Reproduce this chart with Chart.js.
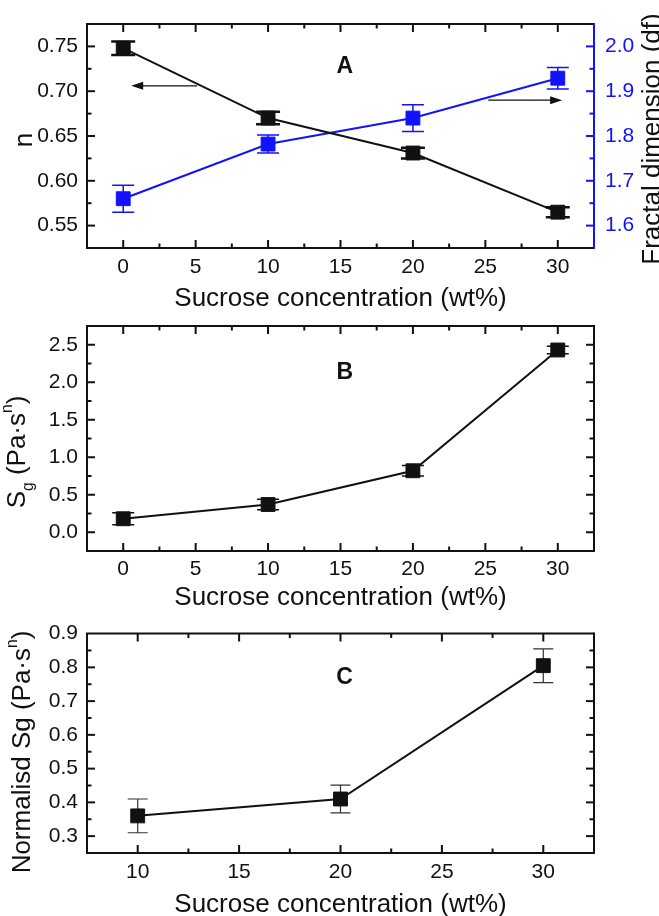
<!DOCTYPE html>
<html>
<head>
<meta charset="utf-8">
<script src="https://cdn.jsdelivr.net/npm/chart.js@4.4.0/dist/chart.umd.min.js"></script>
<style>
  body { margin: 0; background: #fff; width: 659px; height: 916px; position: relative; overflow: hidden; }
  .panel { position: absolute; left: 0; width: 659px; }
</style>
</head>
<body>
<div class="panel" style="top:0;height:312px"><canvas id="chartA" width="659" height="312"></canvas></div>
<div class="panel" style="top:300px;height:312px"><canvas id="chartB" width="659" height="312"></canvas></div>
<div class="panel" style="top:612px;height:304px"><canvas id="chartC" width="659" height="304"></canvas></div>
<script>
// data
const concAB = [0, 10, 20, 30];
const nValues = [0.748, 0.670, 0.631, 0.565];
const nErr = [0.0075, 0.007, 0.006, 0.0056];
const dfValues = [1.660, 1.782, 1.840, 1.929];
const dfErr = [0.030, 0.020, 0.030, 0.024];

const sgValues = [0.18, 0.37, 0.82, 2.43];
const sgErr = [0.08, 0.07, 0.07, 0.05];

const concC = [10, 20, 30];
const normValues = [0.36, 0.41, 0.805];
const normErr = [0.05, 0.041, 0.05];

// tick labels
const xTicksAB = [0, 5, 10, 15, 20, 25, 30];
const xTicksC = [10, 15, 20, 25, 30];
const nTicks = [0.55, 0.60, 0.65, 0.70, 0.75];
const dfTicks = [1.6, 1.7, 1.8, 1.9, 2.0];
const sgTicks = [0.0, 0.5, 1.0, 1.5, 2.0, 2.5];
const normTicks = [0.3, 0.4, 0.5, 0.6, 0.7, 0.8, 0.9];

const FONT = "'Liberation Sans', Arial, sans-serif";
const BLUE = "#1212ff";
const INK = "#111";

function pts(xs, ys) {
  return xs.map((x, i) => ({ x: x, y: ys[i] }));
}

function fixTicks(list) {
  return function (scale) {
    scale.ticks = list.map((v) => ({ value: v }));
  };
}

// major + minor tick positions (minor halfway between majors)
function allTicks(majors, min, max) {
  const half = (majors[1] - majors[0]) / 2;
  const out = [];
  for (let k = -20; k <= 40; k++) {
    const v = majors[0] + k * half;
    if (v > min + 1e-9 && v < max - 1e-9) out.push({ v: v, major: k % 2 === 0 });
  }
  return out;
}

function drawRich(ctx, xb, cy, parts, size) {
  ctx.save();
  ctx.translate(xb, cy);
  ctx.rotate(-Math.PI / 2);
  ctx.fillStyle = INK;
  ctx.textBaseline = "alphabetic";
  ctx.textAlign = "left";
  let total = 0;
  parts.forEach((p) => {
    const s = p.sub || p.sup ? size * 0.6 : size;
    ctx.font = s + "px " + FONT;
    p.w = ctx.measureText(p.t).width;
    total += p.w;
  });
  let x = -total / 2;
  parts.forEach((p) => {
    const s = p.sub || p.sup ? size * 0.6 : size;
    ctx.font = s + "px " + FONT;
    let dy = 0;
    if (p.sub) dy = size * 0.3;
    if (p.sup) dy = -size * 0.5;
    ctx.fillText(p.t, x, dy);
    x += p.w;
  });
  ctx.restore();
}

function arrow(ctx, x1, y1, x2, y2) {
  ctx.save();
  ctx.strokeStyle = INK;
  ctx.fillStyle = INK;
  ctx.lineWidth = 1.2;
  const dir = Math.sign(x2 - x1);
  ctx.beginPath();
  ctx.moveTo(x1, y1);
  ctx.lineTo(x2 - dir * 10, y2);
  ctx.stroke();
  ctx.beginPath();
  ctx.moveTo(x2, y2);
  ctx.lineTo(x2 - dir * 12, y2 - 4);
  ctx.lineTo(x2 - dir * 12, y2 + 4);
  ctx.closePath();
  ctx.fill();
  ctx.restore();
}

const framePlugin = {
  id: "frame",
  beforeDatasetsDraw(chart, args, opts) {
    const ctx = chart.ctx;
    (opts.errors || []).forEach((e) => {
      const meta = chart.getDatasetMeta(e.dataset);
      const ys = chart.scales[meta.yAxisID];
      const ds = chart.data.datasets[e.dataset].data;
      ctx.save();
      ctx.strokeStyle = e.color;
      ctx.lineWidth = e.width;
      meta.data.forEach((p, i) => {
        const top = ys.getPixelForValue(ds[i].y + e.err[i]);
        const bot = ys.getPixelForValue(ds[i].y - e.err[i]);
        ctx.beginPath();
        ctx.moveTo(p.x, top);
        ctx.lineTo(p.x, bot);
        ctx.moveTo(p.x - e.cap, top);
        ctx.lineTo(p.x + e.cap, top);
        ctx.moveTo(p.x - e.cap, bot);
        ctx.lineTo(p.x + e.cap, bot);
        ctx.stroke();
      });
      ctx.restore();
    });
  },
  afterDraw(chart, args, opts) {
    const ctx = chart.ctx;
    const a = chart.chartArea;
    const xs = chart.scales.x;
    const yl = chart.scales.y;
    const yr = chart.scales.y1 || yl;
    const rightColor = chart.scales.y1 ? BLUE : INK;
    ctx.save();
    ctx.lineWidth = 2;
    // tick marks pointing inwards on all four sides
    ctx.strokeStyle = INK;
    allTicks(opts.xMajors, xs.min, xs.max).forEach((t) => {
      const px = xs.getPixelForValue(t.v);
      const len = t.major ? 8 : 4.5;
      ctx.beginPath();
      ctx.moveTo(px, a.bottom);
      ctx.lineTo(px, a.bottom - len);
      ctx.moveTo(px, a.top);
      ctx.lineTo(px, a.top + len);
      ctx.stroke();
    });
    allTicks(opts.yMajors, yl.min, yl.max).forEach((t) => {
      const py = yl.getPixelForValue(t.v);
      const len = t.major ? 8 : 4.5;
      ctx.beginPath();
      ctx.moveTo(a.left, py);
      ctx.lineTo(a.left + len, py);
      ctx.stroke();
    });
    ctx.strokeStyle = rightColor;
    allTicks(opts.rMajors || opts.yMajors, yr.min, yr.max).forEach((t) => {
      const py = yr.getPixelForValue(t.v);
      const len = t.major ? 8 : 4.5;
      ctx.beginPath();
      ctx.moveTo(a.right, py);
      ctx.lineTo(a.right - len, py);
      ctx.stroke();
    });
    // frame
    ctx.strokeStyle = INK;
    ctx.beginPath();
    ctx.moveTo(a.right, a.top);
    ctx.lineTo(a.left, a.top);
    ctx.lineTo(a.left, a.bottom);
    ctx.lineTo(a.right, a.bottom);
    ctx.stroke();
    ctx.strokeStyle = rightColor;
    ctx.beginPath();
    ctx.moveTo(a.right, a.top - 1);
    ctx.lineTo(a.right, a.bottom + 1);
    ctx.stroke();
    ctx.restore();

    // panel letter
    ctx.save();
    ctx.fillStyle = INK;
    ctx.font = "bold 23px " + FONT;
    ctx.textAlign = "center";
    ctx.textBaseline = "alphabetic";
    ctx.fillText(opts.letter.t, xs.getPixelForValue(opts.letter.x), yl.getPixelForValue(opts.letter.y) + 8);
    // x title
    ctx.font = "26px " + FONT;
    ctx.fillText("Sucrose concentration (wt%)", (a.left + a.right) / 2, opts.xTitleY);
    ctx.restore();

    (opts.yTitles || []).forEach((t) => drawRich(ctx, t.x, t.y, t.parts, 26));

    (opts.arrows || []).forEach((r) => {
      const s = chart.scales[r.axis];
      arrow(ctx, xs.getPixelForValue(r.from), s.getPixelForValue(r.y), xs.getPixelForValue(r.to), s.getPixelForValue(r.y));
    });
  },
};

function lineSet(data, color, axis) {
  return {
    data: data,
    yAxisID: axis,
    borderColor: color,
    backgroundColor: color,
    borderWidth: 2,
    pointStyle: "rect",
    pointRadius: 9.8,
    pointBorderWidth: 1,
    pointBackgroundColor: color,
    pointBorderColor: color,
    tension: 0,
  };
}

function xScale(min, max, ticks, height, pad) {
  return {
    type: "linear",
    min: min,
    max: max,
    afterBuildTicks: fixTicks(ticks),
    afterFit: (s) => { s.height = height; },
    grid: { display: false, drawTicks: false },
    border: { display: false },
    ticks: { padding: pad, color: INK, font: { family: FONT, size: 21 }, callback: (v) => String(v) },
  };
}

function yScale(pos, min, max, ticks, width, pad, color, digits) {
  return {
    type: "linear",
    position: pos,
    min: min,
    max: max,
    afterBuildTicks: fixTicks(ticks),
    afterFit: (s) => { s.width = width; },
    grid: { display: false, drawTicks: false },
    border: { display: false },
    ticks: { padding: pad, color: color, font: { family: FONT, size: 21 }, callback: (v) => v.toFixed(digits) },
  };
}

const common = {
  responsive: false,
  animation: false,
  devicePixelRatio: 1,
  events: [],
};

// Panel A
new Chart(document.getElementById("chartA"), {
  type: "line",
  data: {
    datasets: [
      lineSet(pts(concAB, nValues), INK, "y"),
      lineSet(pts(concAB, dfValues), BLUE, "y1"),
    ],
  },
  plugins: [framePlugin],
  options: Object.assign({}, common, {
    layout: { padding: { top: 24, left: 0, right: 0, bottom: 0 } },
    scales: {
      x: xScale(-2.5, 32.5, xTicksAB, 64, 7),
      y: yScale("left", 0.525, 0.775, nTicks, 87, 9, INK, 2),
      y1: yScale("right", 1.55, 2.05, dfTicks, 65, 11, BLUE, 1),
    },
    plugins: {
      legend: { display: false },
      tooltip: { enabled: false },
      frame: {
        xMajors: xTicksAB,
        yMajors: nTicks,
        rMajors: dfTicks,
        letter: { t: "A", x: 15.3, y: 0.7296 },
        xTitleY: 306,
        yTitles: [
          { x: 32, y: 140, parts: [{ t: "n" }] },
          { x: 660, y: 139, parts: [{ t: "Fractal dimension (df)" }] },
        ],
        arrows: [
          { axis: "y", y: 0.706, from: 5.1, to: 0.55 },
          { axis: "y", y: 0.690, from: 25.2, to: 30.3 },
        ],
        errors: [
          { dataset: 0, err: nErr, color: INK, width: 2.5, cap: 12 },
          { dataset: 1, err: dfErr, color: BLUE, width: 1.5, cap: 11 },
        ],
      },
    },
  }),
});

// Panel B
new Chart(document.getElementById("chartB"), {
  type: "line",
  data: { datasets: [lineSet(pts(concAB, sgValues), INK, "y")] },
  plugins: [framePlugin],
  options: Object.assign({}, common, {
    layout: { padding: { top: 26, left: 0, right: 65, bottom: 0 } },
    scales: {
      x: xScale(-2.5, 32.5, xTicksAB, 61, 6),
      y: yScale("left", -0.25, 2.75, sgTicks, 87, 9, INK, 1),
    },
    plugins: {
      legend: { display: false },
      tooltip: { enabled: false },
      frame: {
        xMajors: xTicksAB,
        yMajors: sgTicks,
        letter: { t: "B", x: 15.3, y: 2.15 },
        xTitleY: 305,
        yTitles: [
          {
            x: 25,
            y: 152,
            parts: [{ t: "S" }, { t: "g", sub: true }, { t: " (Pa·s" }, { t: "n", sup: true }, { t: ")" }],
          },
        ],
        errors: [{ dataset: 0, err: sgErr, color: INK, width: 1.5, cap: 11 }],
      },
    },
  }),
});

// Panel C
new Chart(document.getElementById("chartC"), {
  type: "line",
  data: { datasets: [lineSet(pts(concC, normValues), INK, "y")] },
  plugins: [framePlugin],
  options: Object.assign({}, common, {
    layout: { padding: { top: 16, left: 0, right: 65, bottom: 0 } },
    scales: {
      x: xScale(7.5, 32.5, xTicksC, 63, 7),
      y: yScale("left", 0.25, 0.9, normTicks, 87, 9, INK, 1),
    },
    plugins: {
      legend: { display: false },
      tooltip: { enabled: false },
      frame: {
        xMajors: xTicksC,
        yMajors: normTicks,
        letter: { t: "C", x: 20.2, y: 0.775 },
        xTitleY: 300,
        yTitles: [
          {
            x: 30,
            y: 140,
            parts: [{ t: "Normalisd Sg (Pa·s" }, { t: "n", sup: true }, { t: ")" }],
          },
        ],
        errors: [{ dataset: 0, err: normErr, color: "#333", width: 1.2, cap: 10 }],
      },
    },
  }),
});
</script>
</body>
</html>
